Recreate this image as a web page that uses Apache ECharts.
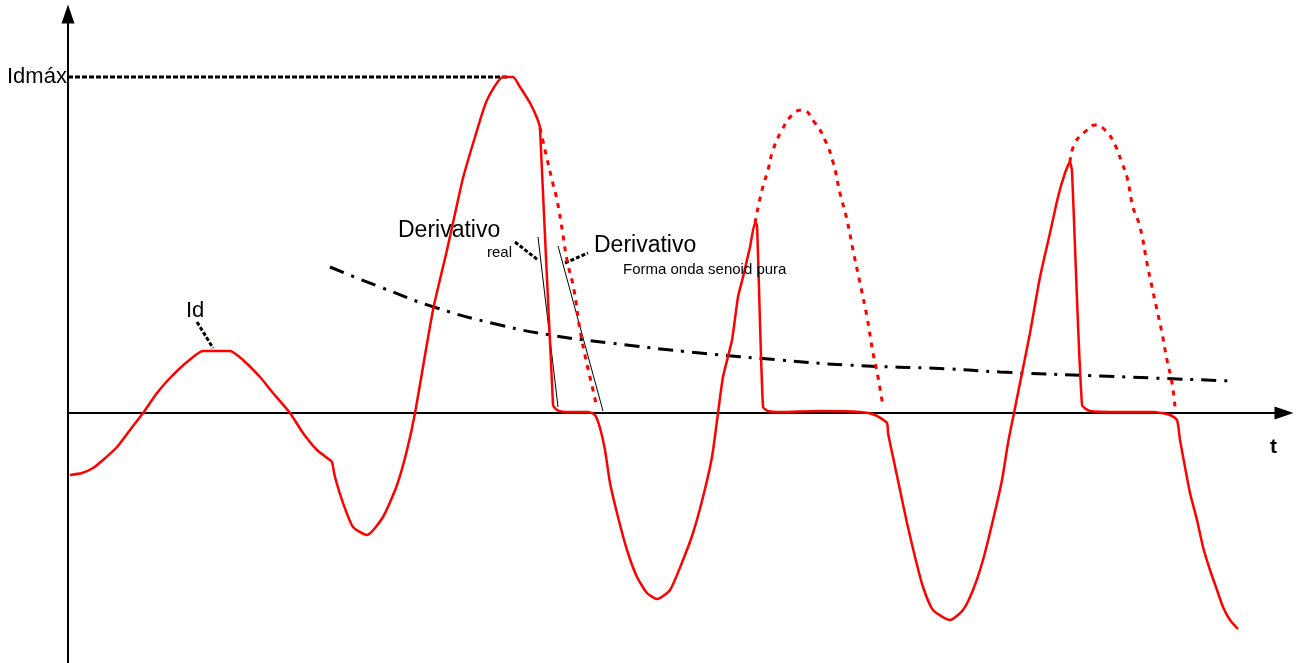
<!DOCTYPE html>
<html style="height: 100%">
   <head>
       <meta charset="utf-8">
   </head>
   <body style="height: 100%; margin: 0; background: #fff">
       <div id="container" style="height: 100%"></div>
       <script type="text/javascript" src="https://cdn.jsdelivr.net/npm/echarts/dist/echarts.min.js"></script>
       <script type="text/javascript">
// secondary current Id, with CT saturation (solid red)
var idReal = [
    [2,-62],[14,-60],[25,-55],[35,-47],[49,-34],[62,-17],[75,0],[89,20],[102,35],[119,51],
    [135,62],[162,62],[175,53],[192,36],[205,20],[222,0],[235,-20],[249,-37],[262,-47],[264,-49],
    [267,-64],[275,-90],[285,-114],[299,-122],[315,-104],[329,-72],[339,-37],[347,0],[365,103],
    [379,163],[390,213],[395,235],[407,276],[419,313],[435,336],[445,336],[452,326],[462,310],
    [469,295],[472,285],[485,8],[489,3],[497,1],[520,1],[527,-2],[532,-15],[537,-37],[542,-70],
    [550,-104],[559,-137],[569,-164],[579,-180],[589,-186],[602,-177],[615,-147],[625,-120],
    [635,-84],[644,-44],[650,0],[655,36],[664,73],[670,116],[675,136],[682,166],[687,190],
    [689,188],[695,6],[700,2],[712,1],[752,2],[792,1],[807,-2],[819,-10],[820,-20],[825,-44],
    [832,-77],[839,-110],[847,-144],[855,-174],[865,-197],[882,-207],[895,-197],[905,-177],
    [915,-147],[925,-107],[934,-67],[940,-30],[946,0],[952,30],[962,80],[972,136],[982,180],
    [990,216],[997,240],[1002,251],[1004,241],[1014,8],[1022,2],[1052,1],[1085,1],[1102,-2],
    [1109,-7],[1112,-27],[1117,-54],[1122,-80],[1129,-107],[1135,-134],[1142,-157],[1149,-177],
    [1155,-194],[1162,-207],[1170,-216]
];
// pure sinusoid (dotted red) where the CT saturates
var arc1 = [[472,285],[477,263],[484,233],[489,213],[495,178],[499,153],[506,123],[512,83],[518,53],[525,23],[529,5]];
var arc2 = [[687,190],[694,223],[700,243],[705,263],[714,283],[724,298],[734,303],[747,290],[757,273],
    [765,251],[772,220],[779,193],[785,163],[792,130],[799,96],[805,60],[810,36],[815,6]];
var arc3 = [[1002,251],[1007,270],[1019,283],[1027,288],[1037,283],[1047,268],[1054,250],[1059,236],
    [1065,206],[1072,186],[1079,150],[1084,126],[1089,103],[1094,80],[1099,53],[1104,30],[1107,6]];
// decaying dc component (black dash-dot)
var dcComp = [[262,146],[312,126],[369,105],[432,88],[482,78],[542,70],[632,60],[712,53],[779,48],
    [882,44],[932,41],[1032,37],[1165,32]];
var idMax = 336;
var idMaxLine = [[0, idMax], [440, idMax]];
// tangents (derivatives)
var tanReal = [[470,176],[490,6]];
var tanPure = [[490,167],[535,2]];
// leader lines
var leadId = [[129,91],[145,65]];
var leadReal = [[447,171],[470,153]];
var leadPure = [[497,150],[520,160]];
// annotations: [x, y, text, fontSize, bold]
var notes = [
    [-61, idMax, 'Idmáx', 22, false],
    [118, 102, 'Id', 22, false],
    [330, 182, 'Derivativo', 23, false],
    [419, 160, 'real', 15, false],
    [526, 167, 'Derivativo', 23, false],
    [555, 143, 'Forma onda senoid pura', 15, false],
    [1202, -34, 't', 21, true]
];

var dom = document.getElementById("container");
var myChart = echarts.init(dom);

function thin(name, data, w, dash) {
    return {
        name: name, type: 'line', data: data, showSymbol: false, silent: true,
        lineStyle: {color: '#000', width: w, type: dash || 'solid'}, z: 3
    };
}
function dotted(name, data) {
    return {
        name: name, type: 'line', data: data, showSymbol: false, smooth: true,
        lineStyle: {color: '#ff0000', width: 3, type: [5, 6]}, z: 4
    };
}

var option = {
    backgroundColor: '#fff',
    animation: false,
    grid: {left: 68, right: 15, top: 14, bottom: 0},
    xAxis: {
        type: 'value', min: 0, max: 1216,
        axisLine: {onZero: true, symbol: ['none', 'triangle'], symbolSize: [13, 19],
            lineStyle: {color: '#000', width: 2}},
        axisTick: {show: false}, axisLabel: {show: false}, splitLine: {show: false}
    },
    yAxis: {
        type: 'value', min: -250, max: 399,
        axisLine: {show: true, onZero: false, symbol: ['none', 'triangle'], symbolSize: [13, 19],
            lineStyle: {color: '#000', width: 2}},
        axisTick: {show: false}, axisLabel: {show: false}, splitLine: {show: false}
    },
    series: [
        thin('idmax', idMaxLine, 3, [5, 2]),
        {
            name: 'dc', type: 'line', data: dcComp, showSymbol: false, smooth: true,
            lineStyle: {color: '#000', width: 3, type: [15, 8, 3, 8]}, z: 2
        },
        {
            name: 'Id', type: 'line', data: idReal, showSymbol: false, smooth: 0.2,
            lineStyle: {color: '#ff0000', width: 2.5}, z: 4
        },
        dotted('arc1', arc1),
        dotted('arc2', arc2),
        dotted('arc3', arc3),
        thin('tanReal', tanReal, 1),
        thin('tanPure', tanPure, 1),
        thin('leadId', leadId, 3, [4, 2]),
        thin('leadReal', leadReal, 3, [4, 2]),
        thin('leadPure', leadPure, 3, [4, 2])
    ]
};
myChart.setOption(option, true);

// annotation texts, placed through the chart's own scales
myChart.setOption({
    graphic: notes.map(function (n) {
        var p = myChart.convertToPixel({gridIndex: 0}, [n[0], n[1]]);
        return {
            type: 'text', x: p[0], y: p[1], z: 10, silent: true,
            style: {
                text: n[2], fill: '#000', fontSize: n[3],
                fontWeight: n[4] ? 'bold' : 'normal',
                fontFamily: 'Liberation Sans, Arial, sans-serif',
                align: 'left', verticalAlign: 'middle'
            }
        };
    })
});
       </script>
   </body>
</html>
